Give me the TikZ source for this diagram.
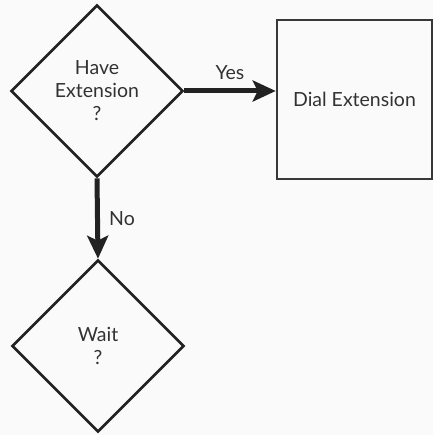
\documentclass[tikz,border=0pt]{standalone}
\usepackage{fontspec}
\setmainfont{Lato}
\usetikzlibrary{shapes.geometric,arrows.meta}
\definecolor{paper}{RGB}{250,250,250}
\definecolor{ink}{RGB}{34,34,34}
\definecolor{letter}{RGB}{50,50,50}
\begin{document}
\begin{tikzpicture}[x=1pt,y=-1pt,font=\fontsize{19.5}{23}\selectfont,text=letter,
  decision/.style={draw=ink,line width=2.6pt,diamond,aspect=1,minimum width=172pt,minimum height=172pt,inner sep=0pt,align=center},
  action/.style={draw=ink!90,line width=2.6pt,rectangle,minimum width=155pt,minimum height=159pt,align=center},
  flow/.style={draw=ink,line width=5pt,-{Stealth[length=23pt,width=21pt,inset=5pt]}}]
\fill[paper] (0,0) rectangle (433,435);
\useasboundingbox (0,0) rectangle (433,435);

\node[decision] (have) at (97,91) {Have\\Extension\\?};
\node[action] (dial) at (354.5,99.5) {Dial Extension};
\node[decision] (wait) at (98,346) {Wait\\?};

\path[flow] (have.east) -- node[label=above:Yes] {} (have.east -| dial.west);
\path[flow] (have.south) -- node[label=right:No] {} (wait.north);
\end{tikzpicture}
\end{document}
